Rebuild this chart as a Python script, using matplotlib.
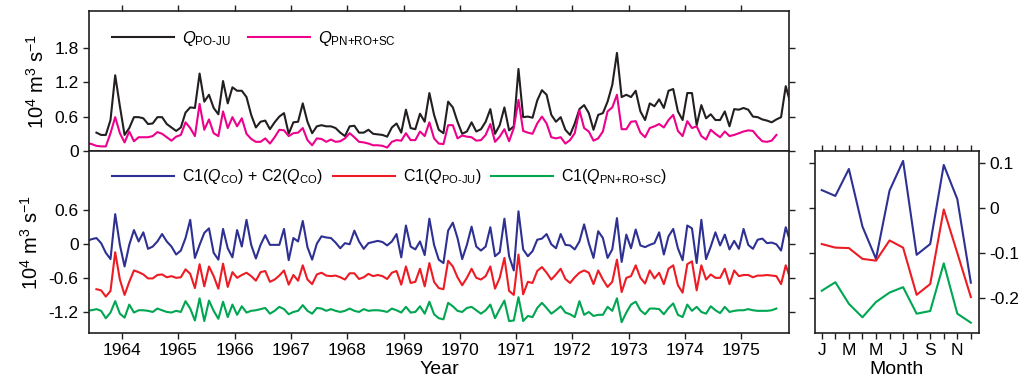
import numpy as np
import matplotlib.pyplot as plt
from matplotlib.ticker import FuncFormatter

plt.rcParams['font.family'] = ['Liberation Sans', 'DejaVu Sans']
plt.rcParams['mathtext.fontset'] = 'custom'
plt.rcParams['mathtext.rm'] = 'Liberation Sans'
plt.rcParams['mathtext.it'] = 'Liberation Sans:italic'
plt.rcParams['axes.unicode_minus'] = False

# monthly series; *_start = index of first month counted from Jan 1963
q_po_ju_start = 6
q_po_ju = [0.32, 0.28, 0.28, 0.54, 1.32, 0.78, 0.28, 0.40, 0.59, 0.59,
           0.57, 0.47, 0.48, 0.59, 0.59, 0.47, 0.41, 0.35, 0.41, 0.67,
           0.76, 0.75, 1.35, 0.86, 0.98, 0.75, 0.64, 1.22, 0.83, 1.11,
           1.05, 1.05, 0.94, 0.63, 0.41, 0.51, 0.53, 0.38, 0.50, 0.60,
           0.66, 0.30, 0.50, 0.51, 0.83, 0.51, 0.31, 0.43, 0.45, 0.43,
           0.43, 0.40, 0.32, 0.26, 0.43, 0.44, 0.32, 0.32, 0.37, 0.30,
           0.29, 0.28, 0.25, 0.41, 0.48, 0.32, 0.72, 0.40, 0.38, 0.65,
           0.51, 1.01, 0.63, 0.37, 0.31, 0.86, 0.76, 0.51, 0.30, 0.34,
           0.50, 0.34, 0.38, 0.51, 0.73, 0.30, 0.45, 0.76, 0.36, 0.43,
           1.43, 0.59, 0.60, 0.58, 0.88, 1.06, 0.98, 0.63, 0.51,
           0.59, 0.37, 0.28, 0.48, 0.73, 0.80, 0.66, 0.37, 0.63, 0.66,
           0.86, 1.15, 1.71, 0.94, 0.98, 0.94, 1.05, 0.69, 0.54, 0.83,
           0.78, 0.90, 0.75, 1.05, 1.08, 0.69, 0.54, 1.01, 1.01, 0.45,
           0.80, 0.57, 0.64, 0.54, 0.54, 0.69, 0.43, 0.73, 0.72, 0.75,
           0.72, 0.60, 0.59, 0.55, 0.53, 0.50, 0.55, 0.59, 1.13, 0.83]

q_pn_ro_sc_start = 4
q_pn_ro_sc = [0.14, 0.12,
              0.09, 0.08, 0.08, 0.31, 0.59, 0.31, 0.15, 0.34, 0.17, 0.24,
              0.24, 0.24, 0.26, 0.33, 0.30, 0.24, 0.18, 0.25, 0.28, 0.50,
              0.40, 0.26, 0.82, 0.37, 0.55, 0.31, 0.26, 0.69, 0.40, 0.59,
              0.43, 0.57, 0.30, 0.21, 0.16, 0.16, 0.22, 0.13, 0.24, 0.37,
              0.36, 0.26, 0.31, 0.32, 0.40, 0.19, 0.10, 0.22, 0.21, 0.16,
              0.20, 0.16, 0.17, 0.22, 0.31, 0.24, 0.16, 0.15, 0.13, 0.10,
              0.10, 0.09, 0.06, 0.16, 0.19, 0.18, 0.31, 0.19, 0.19, 0.34,
              0.26, 0.50, 0.22, 0.13, 0.12, 0.45, 0.45, 0.22, 0.27, 0.25,
              0.24, 0.18, 0.19, 0.28, 0.47, 0.16, 0.25, 0.38, 0.17, 0.40,
              0.89, 0.35, 0.32, 0.30, 0.48, 0.60, 0.48, 0.24, 0.22,
              0.24, 0.13, 0.19, 0.31, 0.71, 0.40, 0.34, 0.18, 0.22, 0.34,
              0.69, 0.76, 0.98, 0.38, 0.38, 0.51, 0.52, 0.32, 0.24, 0.40,
              0.43, 0.47, 0.41, 0.54, 0.63, 0.35, 0.26, 0.52, 0.40, 0.43,
              0.26, 0.20, 0.37, 0.30, 0.24, 0.34, 0.26, 0.28, 0.31, 0.34,
              0.36, 0.35, 0.25, 0.17, 0.16, 0.18, 0.28]

c_co_start = 4
c_co = [0.05, 0.08,
        0.10, 0.01, -0.16, -0.27, 0.52, -0.02, -0.40, -0.02, 0.24, 0.04,
        0.20, -0.09, -0.05, 0.04, 0.17, 0.04, -0.05, -0.19, -0.12, 0.10,
        0.42, -0.25, -0.02, 0.19, 0.27, -0.16, -0.28, 0.26, -0.08, -0.24,
        0.24, -0.05, 0.42, -0.02, -0.26, -0.02, 0.15, -0.02, -0.02, -0.02,
        0.26, -0.29, 0.10, 0.04, 0.40, -0.06, -0.28, 0.00, 0.13, 0.11,
        0.10, 0.02, -0.08, 0.01, -0.01, 0.23, 0.04, -0.09, 0.01, 0.03,
        0.05, 0.03, -0.03, 0.04, 0.17, -0.24, 0.32, -0.05, -0.10, 0.04,
        -0.20, 0.44, -0.02, -0.28, -0.34, 0.23, 0.37, 0.10, -0.27, -0.02,
        0.30, -0.05, -0.12, -0.05, 0.29, -0.22, -0.15, 0.44, -0.22, -0.47,
        0.57, -0.10, -0.22, -0.13, 0.07, 0.09, 0.17, -0.01, -0.08,
        0.17, -0.02, -0.03, -0.10, 0.04, 0.34, 0.01, -0.25, 0.22, 0.10,
        -0.25, -0.10, 0.45, -0.32, 0.16, -0.08, 0.25, -0.03, -0.06, -0.02,
        0.01, 0.20, -0.19, 0.13, 0.26, -0.08, -0.29, 0.32, 0.27, -0.34,
        0.42, -0.27, -0.05, 0.20, -0.03, 0.16, -0.10, 0.05, -0.09, 0.26,
        -0.02, -0.09, 0.07, 0.09, 0.01, 0.02, -0.01, -0.12, 0.29, 0.02]

c1_po_ju_start = 6
c1_po_ju = [-0.80, -0.82, -0.93, -0.83, -0.15, -0.63, -0.90, -0.67, -0.47, -0.50,
            -0.54, -0.61, -0.61, -0.55, -0.54, -0.59, -0.57, -0.60, -0.59, -0.45,
            -0.53, -0.78, -0.36, -0.75, -0.40, -0.57, -0.79, -0.35, -0.76, -0.50,
            -0.60, -0.55, -0.51, -0.57, -0.65, -0.50, -0.48, -0.67, -0.63, -0.56,
            -0.47, -0.72, -0.55, -0.65, -0.38, -0.63, -0.71, -0.54, -0.51, -0.56,
            -0.57, -0.56, -0.59, -0.63, -0.52, -0.52, -0.62, -0.59, -0.53, -0.57,
            -0.55, -0.57, -0.62, -0.51, -0.48, -0.72, -0.40, -0.69, -0.67, -0.44,
            -0.75, -0.34, -0.67, -0.78, -0.80, -0.30, -0.40, -0.59, -0.73, -0.60,
            -0.44, -0.60, -0.63, -0.57, -0.40, -0.79, -0.60, -0.25, -0.83, -0.90,
            -0.19, -0.89, -0.67, -0.69, -0.48, -0.41, -0.51, -0.63, -0.54,
            -0.44, -0.62, -0.69, -0.59, -0.51, -0.47, -0.51, -0.71, -0.47, -0.63,
            -0.76, -0.67, -0.28, -0.85, -0.60, -0.57, -0.38, -0.60, -0.70, -0.47,
            -0.61, -0.51, -0.71, -0.44, -0.38, -0.73, -0.86, -0.36, -0.31, -0.82,
            -0.38, -0.63, -0.54, -0.60, -0.60, -0.44, -0.71, -0.47, -0.57, -0.55,
            -0.55, -0.59, -0.56, -0.56, -0.55, -0.56, -0.57, -0.71, -0.38, -0.62]

c1_pn_ro_sc_start = 4
c1_pn_ro_sc = [-1.17, -1.17,
               -1.15, -1.18, -1.31, -1.21, -1.01, -1.23, -1.30, -1.07, -1.21, -1.17,
               -1.17, -1.18, -1.20, -1.14, -1.17, -1.20, -1.21, -1.18, -1.20, -1.01,
               -1.14, -1.35, -0.96, -1.36, -1.00, -1.18, -1.32, -1.02, -1.29, -1.07,
               -1.25, -1.10, -1.21, -1.18, -1.17, -1.15, -1.13, -1.23, -1.18, -1.11,
               -1.15, -1.24, -1.20, -1.18, -1.08, -1.18, -1.23, -1.13, -1.14, -1.18,
               -1.15, -1.18, -1.20, -1.18, -1.14, -1.18, -1.20, -1.15, -1.18, -1.17,
               -1.17, -1.18, -1.20, -1.14, -1.17, -1.21, -1.11, -1.21, -1.20, -1.10,
               -1.23, -1.02, -1.24, -1.31, -1.33, -1.04, -1.10, -1.18, -1.20, -1.13,
               -1.11, -1.17, -1.23, -1.17, -1.07, -1.31, -1.15, -1.00, -1.36, -1.35,
               -0.94, -1.36, -1.27, -1.29, -1.13, -1.04, -1.13, -1.23, -1.17,
               -1.10, -1.21, -1.24, -1.29, -1.01, -1.25, -1.20, -1.27, -1.25, -1.25,
               -1.11, -1.18, -0.96, -1.38, -1.21, -1.07, -1.02, -1.17, -1.24, -1.14,
               -1.14, -1.15, -1.24, -1.13, -1.05, -1.25, -1.29, -1.07, -1.18, -1.11,
               -1.20, -1.23, -1.10, -1.17, -1.22, -1.11, -1.20, -1.18, -1.17, -1.17,
               -1.15, -1.17, -1.18, -1.18, -1.18, -1.17, -1.14]

# monthly means (right panel)
months = list(range(1, 13))
month_labels = ['J', 'M', 'M', 'J', 'S', 'N']
clim_co = [0.039, 0.026, 0.086, -0.042, -0.114, 0.038, 0.104, -0.105, -0.081, 0.095, 0.019, -0.167]
clim_po_ju = [-0.081, -0.089, -0.090, -0.114, -0.118, -0.073, -0.089, -0.194, -0.170, -0.004, -0.101, -0.199]
clim_pn_ro_sc = [-0.185, -0.166, -0.214, -0.244, -0.210, -0.189, -0.177, -0.236, -0.230, -0.124, -0.236, -0.256]

years = list(range(1964, 1976))

BLACK = '#231f20'
MAGENTA = '#ec008c'
BLUE = '#2e3192'
RED = '#ed1c24'
GREEN = '#00a651'


def month_time(start, values):
    return 1963 + (start + np.arange(len(values)) + 0.5) / 12.0


def fmt(v, pos):
    if abs(v) < 1e-9:
        return '0'
    return f'{v:g}'


def style(ax):
    for s in ax.spines.values():
        s.set_linewidth(1.2)
        s.set_color(BLACK)
    ax.tick_params(direction='out', length=4, width=1, color=BLACK, labelsize=12.5)


fig = plt.figure(figsize=(10.34, 3.87), dpi=100)
ax1 = fig.add_axes([0.0861, 0.6098, 0.677, 0.3618])
ax2 = fig.add_axes([0.0861, 0.1395, 0.677, 0.4703])
ax3 = fig.add_axes([0.7882, 0.1395, 0.1586, 0.4703])

lw = 1.5
ylab = r'10$^4$ m$^3$ s$^{-1}$'

ax1.plot(month_time(q_po_ju_start, q_po_ju), q_po_ju, color=BLACK, lw=lw,
         label=r'$Q_{\text{PO-JU}}$')
ax1.plot(month_time(q_pn_ro_sc_start, q_pn_ro_sc), q_pn_ro_sc, color=MAGENTA, lw=lw,
         label=r'$Q_{\text{PN+RO+SC}}$')
ax1.set_xlim(1963.41, 1975.85)
ax1.set_ylim(0, 2.44)
ax1.set_yticks([0, 0.6, 1.2, 1.8])
ax1.yaxis.set_major_formatter(FuncFormatter(fmt))
ax1.set_xticks(years)
style(ax1)
ax1.tick_params(axis='x', top=True, bottom=True, labelbottom=False)
ax1.tick_params(axis='y', right=True)
ax1.set_ylabel(ylab, fontsize=14.5, labelpad=5)
ax1.legend(loc='upper left', ncol=2, frameon=False, fontsize=12,
           handlelength=3.7, columnspacing=1.0, handletextpad=0.5,
           bbox_to_anchor=(0.012, 0.98))

ax2.plot(month_time(c_co_start, c_co), c_co, color=BLUE, lw=lw,
         label=r'C1($Q_{\text{CO}}$) + C2($Q_{\text{CO}}$)')
ax2.plot(month_time(c1_po_ju_start, c1_po_ju), c1_po_ju, color=RED, lw=lw,
         label=r'C1($Q_{\text{PO-JU}}$)')
ax2.plot(month_time(c1_pn_ro_sc_start, c1_pn_ro_sc), c1_pn_ro_sc, color=GREEN, lw=lw,
         label=r'C1($Q_{\text{PN+RO+SC}}$)')
ax2.set_xlim(1963.41, 1975.85)
ax2.set_ylim(-1.57, 1.63)
ax2.set_yticks([-1.2, -0.6, 0, 0.6])
ax2.yaxis.set_major_formatter(FuncFormatter(fmt))
ax2.set_xticks(years)
style(ax2)
ax2.tick_params(axis='y', right=True)
ax2.set_xlabel('Year', fontsize=14, labelpad=2)
ax2.set_ylabel(ylab, fontsize=14.5, labelpad=5)
ax2.legend(loc='upper left', ncol=3, frameon=False, fontsize=11.5,
           handlelength=3.9, columnspacing=0.6, handletextpad=0.5,
           bbox_to_anchor=(0.012, 0.99))

ax3.plot(months, clim_co, color=BLUE, lw=lw)
ax3.plot(months, clim_po_ju, color=RED, lw=lw)
ax3.plot(months, clim_pn_ro_sc, color=GREEN, lw=lw)
ax3.set_xlim(0.5, 12.6)
ax3.set_ylim(-0.279, 0.126)
ax3.set_xticks(months)
ax3.set_xticklabels([month_labels[i // 2] if i % 2 == 0 else '' for i in range(12)])
ax3.set_yticks([-0.2, -0.1, 0, 0.1])
ax3.yaxis.set_major_formatter(FuncFormatter(fmt))
style(ax3)
ax3.tick_params(axis='x', top=True)
ax3.tick_params(axis='y', left=True, right=True, labelleft=False, labelright=True)
ax3.set_xlabel('Month', fontsize=14, labelpad=2)

fig.savefig('out.png', dpi=100)
